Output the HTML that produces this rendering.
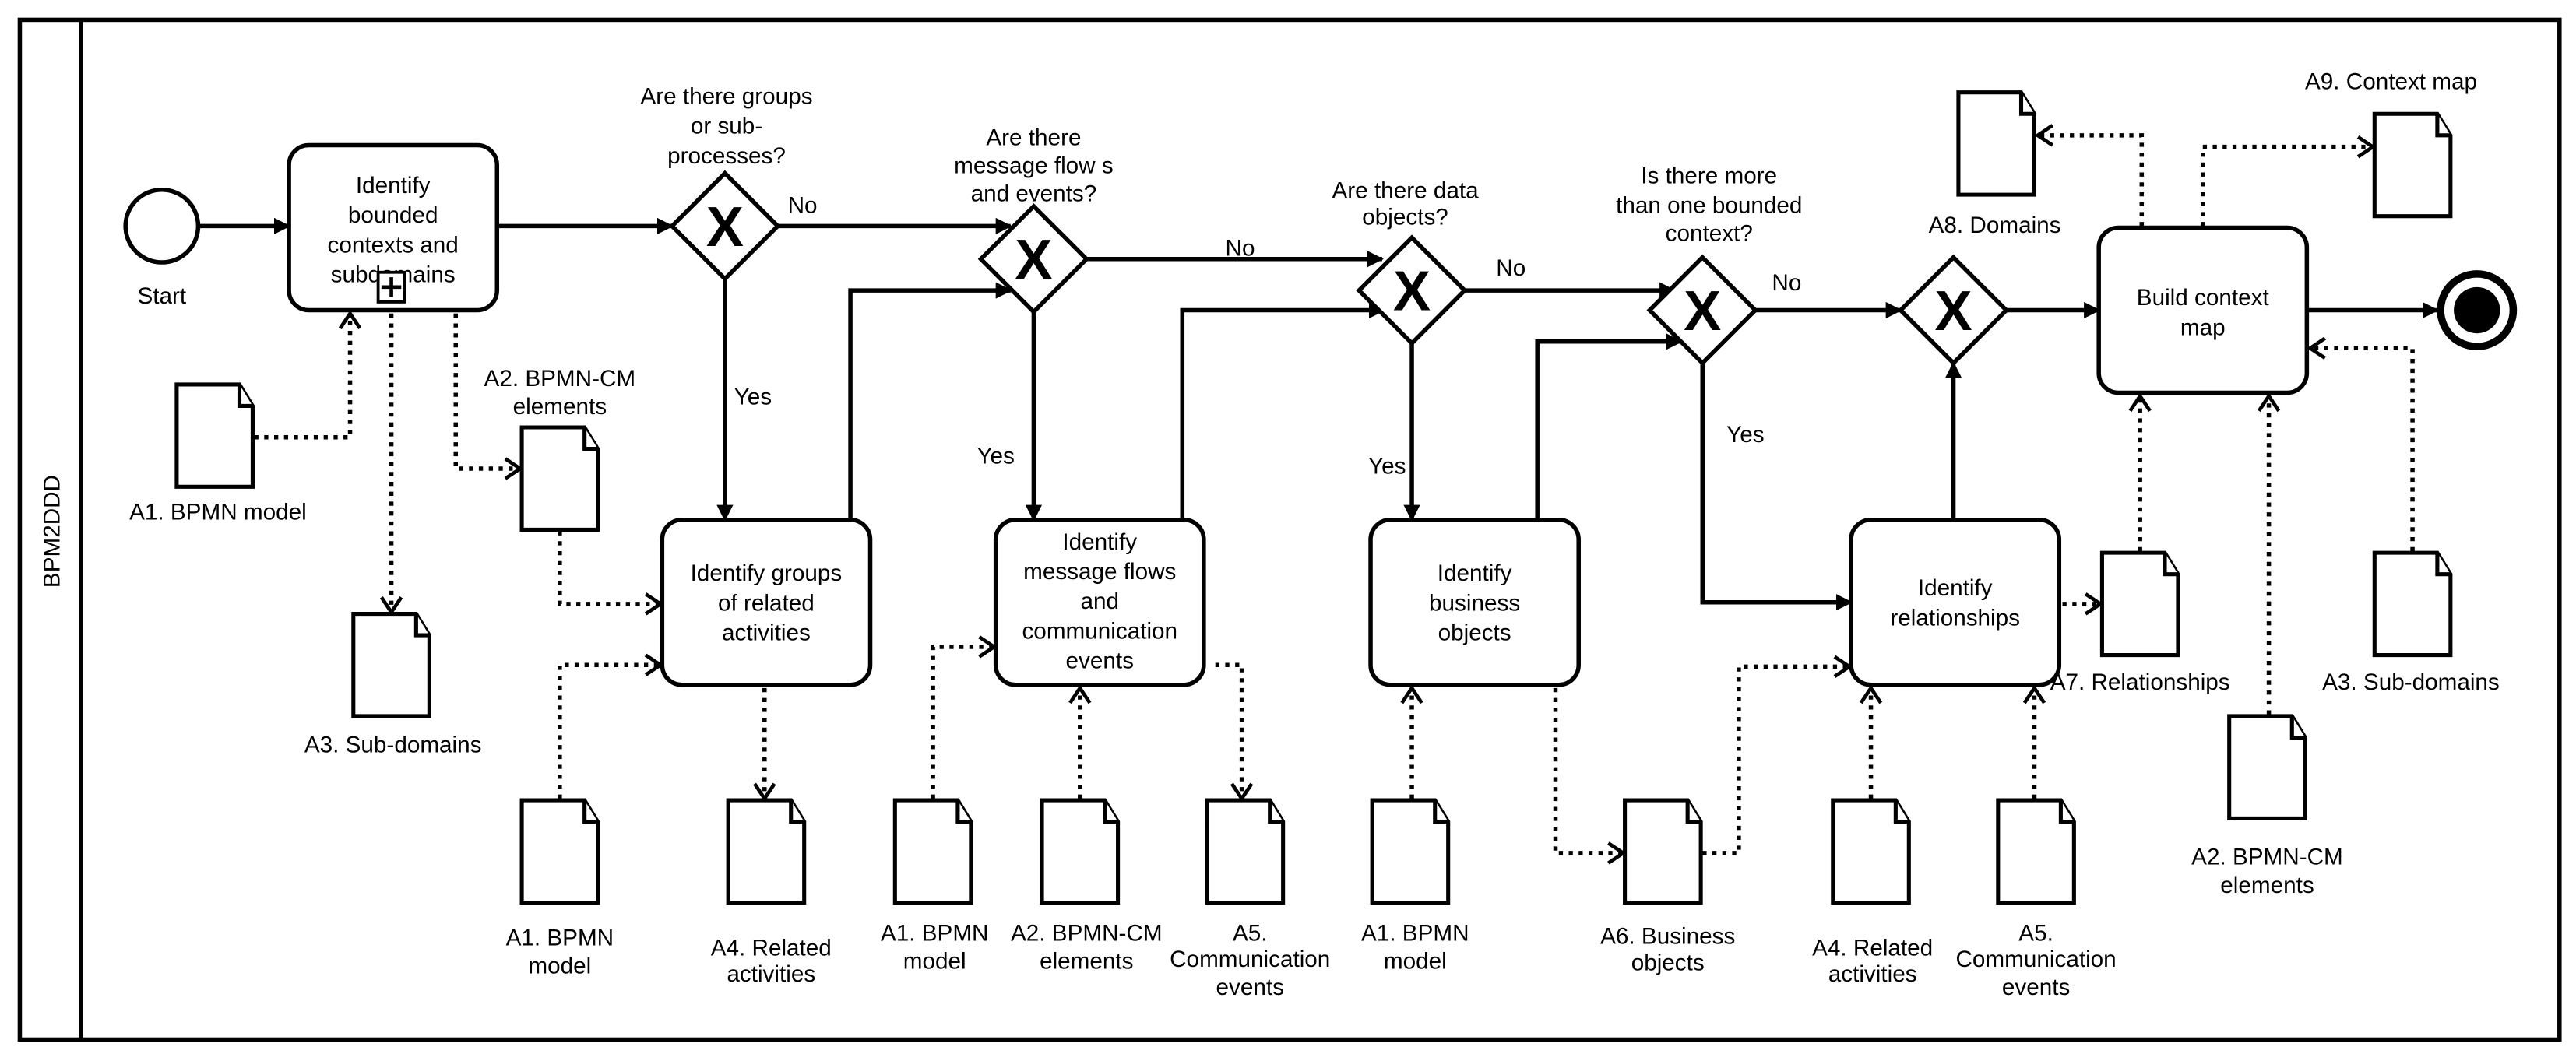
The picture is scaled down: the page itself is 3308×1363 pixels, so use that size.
<!DOCTYPE html>
<html><head><meta charset="utf-8"><style>
html,body{margin:0;padding:0;background:#fff;}
svg{display:block}
text{font-family:"Liberation Sans Narrow","Liberation Sans",sans-serif;font-size:14px;fill:#000;text-anchor:middle}
.s{fill:none;stroke:#000;stroke-width:2.6}
.d{fill:none;stroke:#000;stroke-width:2.6;stroke-dasharray:2.5 3.5}
.t{fill:#fff;stroke:#000;stroke-width:2.6}
.doc{fill:#fff;stroke:#000;stroke-width:2.4}
</style></head><body>
<svg width="3308" height="1363" viewBox="0 0 1560 643" preserveAspectRatio="none" xmlns="http://www.w3.org/2000/svg">
<defs>
<marker id="a" markerWidth="10" markerHeight="10" refX="9" refY="5" orient="auto" markerUnits="userSpaceOnUse"><path d="M0,0 L10,5 L0,10 Z" fill="#000"/></marker>
<marker id="o" markerWidth="12" markerHeight="14" refX="10" refY="7" orient="auto" markerUnits="userSpaceOnUse"><path d="M1,1 L10,7 L1,13" fill="none" stroke="#000" stroke-width="2.2"/></marker>
<g id="dc"><path class="doc" d="M0,0 H38 L46,13 V62 H0 Z"/><path class="doc" d="M38,0 V13 H46"/></g>
<g id="gw"><path class="t" d="M0,-32 L32,0 L0,32 L-32,0 Z"/><text x="0" y="12" style="font-size:34px;font-weight:bold;font-family:'Liberation Sans',sans-serif">X</text></g>
</defs>
<rect x="12" y="12" width="1538" height="618" fill="none" stroke="#000" stroke-width="2.6"/>
<line x1="49" y1="12" x2="49" y2="630" class="s"/>
<text transform="translate(36,322) rotate(-90)">BPM2DDD</text>

<!-- start -->
<circle cx="98" cy="137" r="22" class="t"/>
<text x="98" y="184">Start</text>
<line x1="120" y1="137" x2="175" y2="137" class="s" marker-end="url(#a)"/>

<!-- task1 -->
<rect x="175" y="88" width="126" height="100" rx="12" class="t"/>
<text x="238" y="117">Identify</text><text x="238" y="135">bounded</text><text x="238" y="153">contexts and</text><text x="238" y="171">subdomains</text>
<rect x="229" y="165" width="16" height="18" fill="#fff" stroke="#000" stroke-width="1.8"/>
<path d="M237,168 V180 M231,174 H243" stroke="#000" stroke-width="2.2"/>
<line x1="301" y1="137" x2="407" y2="137" class="s" marker-end="url(#a)"/>

<!-- G1 -->
<use href="#gw" x="439" y="137"/>
<text x="440" y="63">Are there groups</text><text x="440" y="81">or sub-</text><text x="440" y="99">processes?</text>
<text x="486" y="129">No</text>
<line x1="471" y1="137" x2="612" y2="137" class="s" marker-end="url(#a)"/>
<line x1="439" y1="169" x2="439" y2="315" class="s" marker-end="url(#a)"/>
<text x="456" y="245">Yes</text>

<!-- task2 -->
<rect x="401" y="315" width="126" height="100" rx="12" class="t"/>
<text x="464" y="352">Identify groups</text><text x="464" y="370">of related</text><text x="464" y="388">activities</text>
<polyline points="515,315 515,176 612,176" class="s" marker-end="url(#a)"/>

<!-- G2 -->
<use href="#gw" x="626" y="157"/>
<text x="626" y="88">Are there</text><text x="626" y="105">message flow s</text><text x="626" y="122">and events?</text>
<line x1="658" y1="157" x2="837" y2="157" class="s" marker-end="url(#a)"/>
<text x="751" y="155">No</text>
<line x1="626" y1="189" x2="626" y2="315" class="s" marker-end="url(#a)"/>
<text x="603" y="281">Yes</text>

<!-- task3 -->
<rect x="603" y="315" width="126" height="100" rx="12" class="t"/>
<text x="666" y="333">Identify</text><text x="666" y="351">message flows</text><text x="666" y="369">and</text><text x="666" y="387">communication</text><text x="666" y="405">events</text>
<polyline points="716,315 716,188 838,188" class="s" marker-end="url(#a)"/>

<!-- G3 -->
<use href="#gw" x="855" y="176"/>
<text x="851" y="120">Are there data</text><text x="851" y="136">objects?</text>
<line x1="887" y1="176" x2="1014" y2="176" class="s" marker-end="url(#a)"/>
<text x="915" y="167">No</text>
<line x1="855" y1="208" x2="855" y2="315" class="s" marker-end="url(#a)"/>
<text x="840" y="287">Yes</text>

<!-- task4 -->
<rect x="830" y="315" width="126" height="100" rx="12" class="t"/>
<text x="893" y="352">Identify</text><text x="893" y="370">business</text><text x="893" y="388">objects</text>
<polyline points="931,315 931,207 1018,207" class="s" marker-end="url(#a)"/>

<!-- G4 -->
<use href="#gw" x="1031" y="188"/>
<text x="1035" y="111">Is there more</text><text x="1035" y="129">than one bounded</text><text x="1035" y="146">context?</text>
<line x1="1063" y1="188" x2="1151" y2="188" class="s" marker-end="url(#a)"/>
<text x="1082" y="176">No</text>
<polyline points="1031,220 1031,365 1121,365" class="s" marker-end="url(#a)"/>
<text x="1057" y="268">Yes</text>

<!-- task5 -->
<rect x="1121" y="315" width="126" height="100" rx="12" class="t"/>
<text x="1184" y="361">Identify</text><text x="1184" y="379">relationships</text>
<line x1="1183" y1="315" x2="1183" y2="220" class="s" marker-end="url(#a)"/>

<!-- G5 -->
<use href="#gw" x="1183" y="188"/>
<line x1="1215" y1="188" x2="1271" y2="188" class="s" marker-end="url(#a)"/>

<!-- task6 -->
<rect x="1271" y="138" width="126" height="100" rx="12" class="t"/>
<text x="1334" y="185">Build context</text><text x="1334" y="203">map</text>
<line x1="1397" y1="188" x2="1476" y2="188" class="s" marker-end="url(#a)"/>
<circle cx="1500" cy="188" r="22" fill="#fff" stroke="#000" stroke-width="4.5"/>
<circle cx="1500" cy="188" r="14" fill="#000"/>

<!-- docs -->
<use href="#dc" x="107" y="233"/><text x="132" y="315">A1. BPMN model</text>
<polyline points="154,265 212,265 212,190" class="d" marker-end="url(#o)"/>
<use href="#dc" x="316" y="259"/><text x="339" y="234">A2. BPMN-CM</text><text x="339" y="251">elements</text>
<polyline points="276,190 276,284 315,284" class="d" marker-end="url(#o)"/>
<use href="#dc" x="214" y="372"/><text x="238" y="456">A3. Sub-domains</text>
<polyline points="237,190 237,371" class="d" marker-end="url(#o)"/>
<polyline points="339,322 339,366 400,366" class="d" marker-end="url(#o)"/>

<use href="#dc" x="316" y="485"/><text x="339" y="573">A1. BPMN</text><text x="339" y="590">model</text>
<polyline points="339,484 339,403 400,403" class="d" marker-end="url(#o)"/>
<use href="#dc" x="441" y="485"/><text x="467" y="579">A4. Related</text><text x="467" y="595">activities</text>
<polyline points="463,417 463,484" class="d" marker-end="url(#o)"/>

<use href="#dc" x="542" y="485"/><text x="566" y="570">A1. BPMN</text><text x="566" y="587">model</text>
<polyline points="565,484 565,392 602,392" class="d" marker-end="url(#o)"/>
<use href="#dc" x="631" y="485"/><text x="658" y="570">A2. BPMN-CM</text><text x="658" y="587">elements</text>
<polyline points="654,484 654,417" class="d" marker-end="url(#o)"/>
<use href="#dc" x="731" y="485"/><text x="757" y="570">A5.</text><text x="757" y="586">Communication</text><text x="757" y="603">events</text>
<polyline points="736,403 752,403 752,484" class="d" marker-end="url(#o)"/>

<use href="#dc" x="831" y="485"/><text x="857" y="570">A1. BPMN</text><text x="857" y="587">model</text>
<polyline points="855,484 855,417" class="d" marker-end="url(#o)"/>
<use href="#dc" x="984" y="485"/><text x="1010" y="572">A6. Business</text><text x="1010" y="588">objects</text>
<polyline points="942,417 942,517 983,517" class="d" marker-end="url(#o)"/>
<polyline points="1031,517 1053,517 1053,404 1120,404" class="d" marker-end="url(#o)"/>

<use href="#dc" x="1110" y="485"/><text x="1134" y="579">A4. Related</text><text x="1134" y="595">activities</text>
<polyline points="1133,484 1133,417" class="d" marker-end="url(#o)"/>
<use href="#dc" x="1210" y="485"/><text x="1233" y="570">A5.</text><text x="1233" y="586">Communication</text><text x="1233" y="603">events</text>
<polyline points="1232,484 1232,417" class="d" marker-end="url(#o)"/>

<use href="#dc" x="1273" y="335"/><text x="1296" y="418">A7. Relationships</text>
<polyline points="1249,366 1272,366" class="d" marker-end="url(#o)"/>
<polyline points="1296,334 1296,240" class="d" marker-end="url(#o)"/>
<use href="#dc" x="1350" y="434"/><text x="1373" y="524">A2. BPMN-CM</text><text x="1373" y="541">elements</text>
<polyline points="1374,433 1374,240" class="d" marker-end="url(#o)"/>
<use href="#dc" x="1438" y="335"/><text x="1460" y="418">A3. Sub-domains</text>
<polyline points="1461,334 1461,211 1399,211" class="d" marker-end="url(#o)"/>

<use href="#dc" x="1186" y="56"/><text x="1208" y="141">A8. Domains</text>
<polyline points="1297,137 1297,82 1234,82" class="d" marker-end="url(#o)"/>
<use href="#dc" x="1438" y="69"/><text x="1448" y="54">A9. Context map</text>
<polyline points="1334,137 1334,89 1437,89" class="d" marker-end="url(#o)"/>
</svg>
</body></html>
